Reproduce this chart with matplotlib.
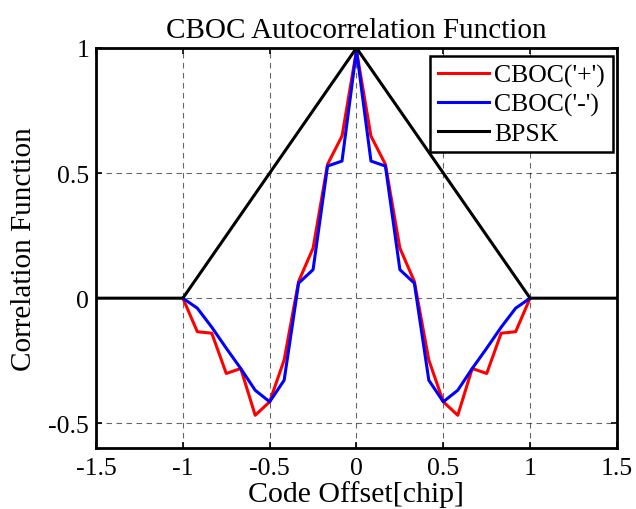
import matplotlib
matplotlib.use("Agg")
import matplotlib.pyplot as plt

# code offsets in chips, step 1/12 chip
offsets = [-12, -11, -10, -9, -8, -7, -6, -5, -4, -3, -2, -1, 0,
           1, 2, 3, 4, 5, 6, 7, 8, 9, 10, 11, 12]
cboc_plus = [0.0, -0.134, -0.140, -0.301, -0.281, -0.468, -0.414, -0.247, 0.067, 0.200, 0.535, 0.648, 0.99,
             0.648, 0.535, 0.200, 0.067, -0.247, -0.414, -0.468, -0.281, -0.301, -0.140, -0.134, 0.0]
cboc_minus = [0.0, -0.040, -0.116, -0.200, -0.281, -0.368, -0.414, -0.328, 0.060, 0.114, 0.528, 0.548, 0.99,
              0.548, 0.528, 0.114, 0.060, -0.328, -0.414, -0.368, -0.281, -0.200, -0.116, -0.040, 0.0]
bpsk_x = [-1.5, -1.0, 0.0, 1.0, 1.5]
bpsk_y = [0.0, 0.0, 1.0, 0.0, 0.0]

xticks = [-1.5, -1, -0.5, 0, 0.5, 1, 1.5]
xticklabels = ["-1.5", "-1", "-0.5", "0", "0.5", "1", "1.5"]
yticks = [-0.5, 0, 0.5, 1]
yticklabels = ["-0.5", "0", "0.5", "1"]

plt.rcParams['font.family'] = ['Liberation Serif', 'DejaVu Serif']

fig = plt.figure(figsize=(6.36, 5.10), dpi=100)
ax = fig.add_axes([0.151, 0.119, 0.819, 0.785])

x_chip = [k / 12 for k in offsets]
ax.plot(x_chip, cboc_plus, color='red', lw=2.2, label="CBOC('+')")
ax.plot(x_chip, cboc_minus, color='blue', lw=2.2, label="CBOC('-')")
ax.plot(bpsk_x, bpsk_y, color='black', lw=2.2, label='BPSK')

ax.set_xlim(-1.5, 1.5)
ax.set_ylim(-0.6, 1.0)
ax.set_xticks(xticks)
ax.set_xticklabels(xticklabels)
ax.set_yticks(yticks)
ax.set_yticklabels(yticklabels)
ax.tick_params(direction='in', top=True, right=True, labelsize=18.5, length=4, width=1.2)
ax.tick_params(axis='x', pad=6)
ax.tick_params(axis='y', pad=5)
ax.grid(True, color='black', linestyle=(0, (5, 4)), linewidth=0.8, alpha=0.6)
for s in ax.spines.values():
    s.set_linewidth(2)

ax.set_title('CBOC Autocorrelation Function', fontsize=21, pad=8)
ax.set_xlabel('Code Offset[chip]', fontsize=21.5, labelpad=1)
ax.set_ylabel('Correlation Function', fontsize=21, labelpad=8)

leg = ax.legend(loc='upper right', bbox_to_anchor=(0.992, 0.98), fontsize=18.5,
                frameon=True, fancybox=False, edgecolor='black', framealpha=1,
                borderpad=0.3, handlelength=2.0, handletextpad=0.2,
                labelspacing=0.22, borderaxespad=0.0)
leg.get_frame().set_linewidth(1.8)

fig.savefig('out.png', dpi=100)
